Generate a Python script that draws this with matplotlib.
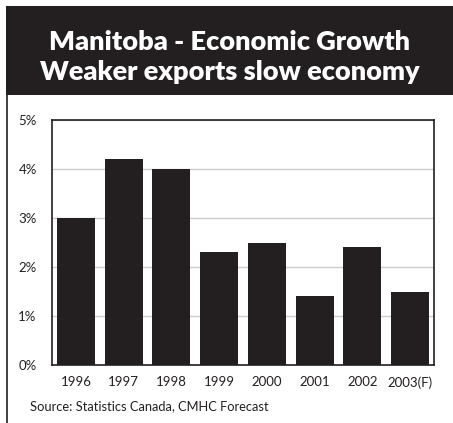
import matplotlib
matplotlib.use("Agg")
import matplotlib.pyplot as plt
from matplotlib.patches import Rectangle

years = ["1996", "1997", "1998", "1999", "2000", "2001", "2002", "2003(F)"]
growth = [3.0, 4.2, 4.0, 2.3, 2.5, 1.4, 2.4, 1.5]
yticks = [0, 1, 2, 3, 4, 5]
ylabels = ["0%", "1%", "2%", "3%", "4%", "5%"]

plt.rcParams['font.family'] = ['Lato', 'DejaVu Sans']

W, H = 453, 423
fig = plt.figure(figsize=(W / 100, H / 100), dpi=100)

# dark banner and left rule
fig.patches.append(Rectangle((6 / W, 1 - 95 / H), 1, 89 / H, transform=fig.transFigure,
                             facecolor="#231f20", edgecolor="none"))
fig.lines.append(plt.Line2D([6.5 / W, 6.5 / W], [0, 1 - 95 / H], transform=fig.transFigure,
                            color="#231f20", lw=1.2))
fig.text(0.5 + 3 / W, 1 - 42 / H, "Manitoba - Economic Growth", color="white",
         fontsize=19.5, fontweight="heavy", ha="center", va="center")
fig.text(0.5 + 3 / W, 1 - 72 / H, "Weaker exports slow economy", color="white",
         fontsize=19.5, fontweight="heavy", ha="center", va="center")

ax = fig.add_axes([52 / W, 1 - 365 / H, 382 / W, 245 / H])
x = range(len(years))
ax.bar(x, growth, width=0.8, color="#231f20", zorder=3)
ax.set_xlim(-0.5, len(years) - 0.5)
ax.set_ylim(0, 5)
ax.set_yticks(yticks)
ax.set_yticklabels(ylabels)
ax.set_xticks(list(x))
ax.set_xticklabels(years)
ax.grid(axis="y", color="#cccccc", lw=1, zorder=0)
ax.tick_params(length=0, labelsize=9.5, colors="#231f20", pad=8)
ax.tick_params(axis="y", pad=11)
for s in ax.spines.values():
    s.set_color("#231f20")
    s.set_linewidth(1.2)

fig.text(30 / W, 1 - 406 / H, "Source: Statistics Canada, CMHC Forecast", fontsize=9.3,
         color="#231f20", va="center", ha="left")

fig.savefig("out.png", dpi=100)
